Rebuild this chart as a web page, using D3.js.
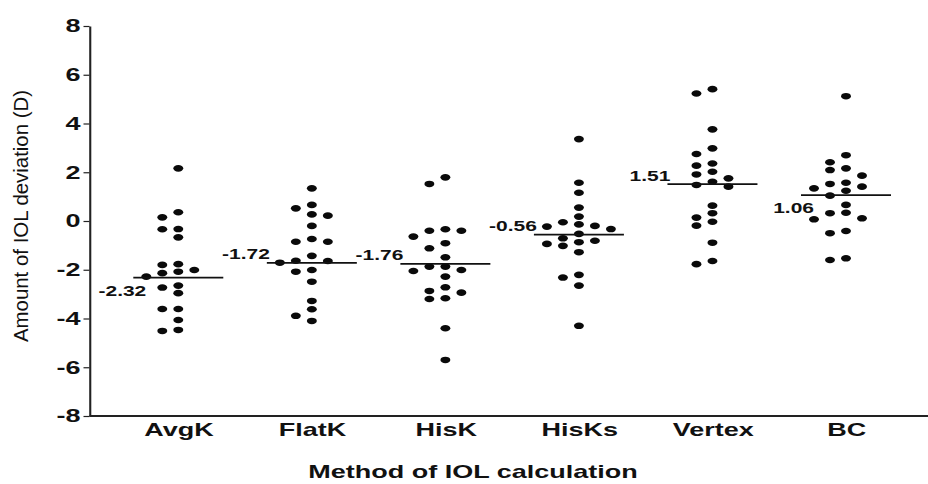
<!DOCTYPE html>
<html>
<head>
<meta charset="utf-8">
<script src="https://cdn.jsdelivr.net/npm/d3@7"></script>
<style>
  html, body { margin: 0; padding: 0; background: #fff; }
  svg { display: block; }
  text { font-family: Arial, "Liberation Sans", Helvetica, sans-serif; }
</style>
</head>
<body>
<div id="chart"></div>
<script>
// values, in dioptres
const methods = ["AvgK", "FlatK", "HisK", "HisKs", "Vertex", "BC"];
const avgK = [2.16, 0.36, 0.15, -0.34, -0.33, -0.67, -1.80, -1.77, -2.08, -2.01, -2.14, -2.28, -2.65, -2.96, -2.73, -3.61, -3.61, -4.06, -4.51, -4.47];
const flatK = [1.34, 0.66, 0.52, 0.22, 0.27, -0.20, -0.74, -0.85, -0.85, -1.43, -1.64, -1.71, -1.63, -2.01, -2.08, -2.49, -3.28, -3.62, -3.89, -4.10];
const hisK = [1.52, 1.79, -0.40, -0.40, -0.34, -0.64, -0.91, -1.12, -1.49, -1.87, -2.05, -2.01, -1.87, -2.28, -2.72, -2.94, -2.87, -3.20, -3.17, -4.40, -5.70];
const hisKs = [3.36, 1.57, 1.16, 0.55, 0.18, -0.14, -0.23, -0.20, -0.33, -0.05, -0.53, -0.81, -0.94, -0.71, -1.02, -0.87, -1.28, -2.32, -2.21, -2.65, -4.30];
const vertex = [5.23, 5.41, 3.76, 2.75, 2.98, 2.36, 2.27, 2.02, 1.91, 1.61, 1.75, 1.41, 1.48, 0.63, 0.14, 0.32, -0.19, -0.03, -0.89, -1.77, -1.64];
const bc = [5.12, 2.70, 2.41, 2.09, 2.16, 1.86, 1.57, 1.41, 1.24, 1.34, 1.52, 1.04, 0.66, 0.32, 0.07, 0.11, 0.34, -0.41, -0.50, -1.60, -1.53];
const means = [-2.32, -1.72, -1.76, -0.56, 1.51, 1.06];
const meanLabelSide = ["below", "above", "above", "above", "above", "below"];
const yTicks = [8, 6, 4, 2, 0, -2, -4, -6, -8];

const series = [avgK, flatK, hisK, hisKs, vertex, bc];

const width = 928;
const height = 484;
const stretch = 1.5; // the original figure is drawn wider than tall
const vw = width / stretch;

const svg = d3.select("#chart").append("svg")
  .attr("width", width)
  .attr("height", height)
  .attr("viewBox", `0 0 ${vw} ${height}`)
  .attr("preserveAspectRatio", "none");

const axisX = 89.5 / stretch;
const y = d3.scaleLinear().domain([-8, 8]).range([416, 26]);
const x = d3.scalePoint().domain(methods).range([178.3 / stretch, 846 / stretch]);

const colStep = 16 / stretch;
const dotR = 3.3;
const halfLine = 45 / stretch;

// simple column scatter: put each point in the nearest free column
function swarm(values, minDy) {
  const slots = [0, -1, 1, -2, 2, -3, 3];
  const placed = [];
  const order = values.map((v, i) => i).sort((a, b) => values[b] - values[a]);
  order.forEach(i => {
    const py = y(values[i]);
    const slot = slots.find(s => !placed.some(p => p.slot === s && Math.abs(p.py - py) < minDy));
    placed.push({value: values[i], py, slot});
  });
  return placed;
}

// y axis
const yAxis = svg.append("g")
  .attr("transform", `translate(${axisX},0)`)
  .call(d3.axisLeft(y).tickValues(yTicks).tickSize(4).tickSizeOuter(0).tickPadding(2).tickFormat(d => String(d)));
yAxis.select(".domain").attr("stroke", "#222").attr("stroke-width", 1.4);
yAxis.selectAll(".tick line").attr("stroke", "#222").attr("stroke-width", 1.2);
yAxis.selectAll(".tick text")
  .attr("fill", "#111")
  .style("font-size", "18px")
  .style("font-weight", "bold");

// x axis
svg.append("line")
  .attr("x1", axisX).attr("x2", vw)
  .attr("y1", y(-8)).attr("y2", y(-8))
  .attr("stroke", "#222")
  .attr("stroke-width", 1.8);

const xAxis = svg.append("g")
  .attr("transform", `translate(0,${y(-8)})`)
  .call(d3.axisBottom(x).tickSize(0).tickPadding(7));
xAxis.select(".domain").remove();
xAxis.selectAll(".tick text")
  .attr("fill", "#111")
  .style("font-size", "18px")
  .style("font-weight", "bold");

// axis titles
svg.append("text")
  .attr("transform", `translate(${28 / stretch},216) rotate(-90)`)
  .attr("text-anchor", "middle")
  .attr("textLength", 252)
  .attr("lengthAdjust", "spacingAndGlyphs")
  .attr("fill", "#111")
  .style("font-size", "14px")
  .text("Amount of IOL deviation (D)");

svg.append("text")
  .attr("x", 473 / stretch)
  .attr("y", 478)
  .attr("text-anchor", "middle")
  .attr("fill", "#111")
  .style("font-size", "18px")
  .style("font-weight", "bold")
  .text("Method of IOL calculation");

// dots
series.forEach((values, gi) => {
  const cx = x(methods[gi]);
  svg.append("g")
    .selectAll("circle")
    .data(swarm(values, 7.5))
    .join("circle")
    .attr("cx", d => cx + d.slot * colStep)
    .attr("cy", d => y(d.value))
    .attr("r", dotR)
    .attr("fill", "#0a0a0a");
});

// mean lines and labels
const meanG = svg.append("g");
meanG.selectAll("line")
  .data(means)
  .join("line")
  .attr("x1", (d, i) => x(methods[i]) - halfLine)
  .attr("x2", (d, i) => x(methods[i]) + halfLine)
  .attr("y1", d => y(d))
  .attr("y2", d => y(d))
  .attr("stroke", "#111")
  .attr("stroke-width", 1.8);

meanG.selectAll("text")
  .data(means)
  .join("text")
  .attr("x", (d, i) => x(methods[i]) - halfLine + (meanLabelSide[i] === "below" ? 13 : 3) / stretch)
  .attr("y", (d, i) => y(d) + (meanLabelSide[i] === "below" ? 18 : -3.5))
  .attr("text-anchor", "end")
  .attr("fill", "#111")
  .style("font-size", "14px")
  .style("font-weight", "bold")
  .text(d => d.toFixed(2));
</script>
</body>
</html>
